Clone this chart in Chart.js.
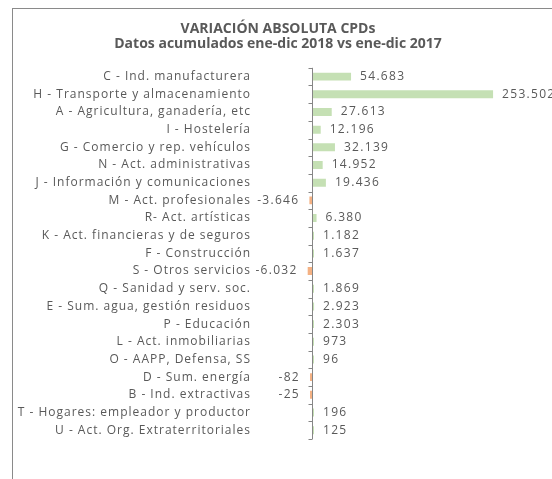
<!DOCTYPE html>
<html>
<head>
<meta charset="utf-8">
<script src="https://cdn.jsdelivr.net/npm/chart.js@4"></script>
<style>
  html, body { margin:0; padding:0; background:#fff; overflow:hidden; }
  #wrap { position:relative; width:552px; height:479px; }
  #frame { position:absolute; left:12px; top:8px; width:600px; height:520px; border:1px solid #8a8a8a; }
  #c { position:absolute; left:0; top:0; }
</style>
</head>
<body>
<div id="wrap">
  <div id="frame"></div>
  <canvas id="c" width="552" height="479"></canvas>
</div>
<script>
const titleLines = ['VARIACIÓN ABSOLUTA CPDs', 'Datos acumulados ene-dic 2018 vs ene-dic 2017'];

const sectors = [
  'C - Ind. manufacturera',
  'H - Transporte y almacenamiento',
  'A - Agricultura, ganadería, etc',
  'I - Hostelería',
  'G - Comercio y rep. vehículos',
  'N - Act. administrativas',
  'J - Información y comunicaciones',
  'M - Act. profesionales',
  'R- Act. artísticas',
  'K - Act. financieras y de seguros',
  'F - Construcción',
  'S - Otros servicios',
  'Q - Sanidad y serv. soc.',
  'E - Sum. agua, gestión residuos',
  'P - Educación',
  'L - Act. inmobiliarias',
  'O - AAPP, Defensa, SS',
  'D - Sum. energía',
  'B - Ind. extractivas',
  'T - Hogares: empleador y productor',
  'U - Act. Org. Extraterritoriales'
];

const variation = [54683, 253502, 27613, 12196, 32139, 14952, 19436, -3646, 6380, 1182,
  1637, -6032, 1869, 2923, 2303, 973, 96, -82, -25, 196, 125];

const POS = '#c5e0b4', NEG = '#f4b183', TXT = '#595959';
const SPACING = '1px';

// formato español: 54.683, 1.182
const fmt = v => (v < 0 ? '-' : '') + String(Math.abs(v)).replace(/\B(?=(\d{3})+(?!\d))/g, '.');

// texto espaciado como en la imagen (Excel), salvo en el titulo
const spacingPlugin = {
  id: 'spacing',
  beforeLayout(chart) { chart.ctx.letterSpacing = SPACING; },
  beforeDraw(chart) {
    chart.ctx.letterSpacing = SPACING;
    const t = chart.titleBlock;
    if (t && !t._patched) {
      const orig = t.draw;
      t.draw = function () {
        const ctx = chart.ctx;
        ctx.letterSpacing = '0px';
        orig.apply(this, arguments);
        ctx.letterSpacing = SPACING;
      };
      t._patched = true;
    }
  }
};

// eje vertical en x=0 con marcas entre categorias, y etiquetas de valor
const axisLabels = {
  id: 'axisLabels',
  afterDatasetsDraw(chart) {
    const ctx = chart.ctx, xs = chart.scales.x, ys = chart.scales.y;
    const x0 = Math.round(xs.getPixelForValue(0)) + 0.5;
    const step = (ys.bottom - ys.top) / sectors.length;
    ctx.save();
    ctx.strokeStyle = '#868686';
    ctx.lineWidth = 1;
    ctx.beginPath();
    ctx.moveTo(x0, ys.top);
    ctx.lineTo(x0, ys.bottom);
    for (let i = 0; i <= sectors.length; i++) {
      const y = Math.round(ys.top + i * step) + 0.5;
      ctx.moveTo(x0 - 4, y);
      ctx.lineTo(x0, y);
    }
    ctx.stroke();

    ctx.font = '12px "Open Sans"';
    ctx.letterSpacing = '1.3px';
    ctx.fillStyle = TXT;
    ctx.textBaseline = 'middle';
    chart.getDatasetMeta(0).data.forEach((bar, i) => {
      const v = variation[i];
      if (v >= 0) {
        ctx.textAlign = 'left';
        ctx.fillText(fmt(v), Math.max(bar.x, x0) + 9, bar.y);
      } else {
        ctx.textAlign = 'right';
        ctx.fillText(fmt(v), Math.min(bar.x, x0 - 2) - 10, bar.y);
      }
    });
    ctx.restore();
  }
};

new Chart(document.getElementById('c'), {
  type: 'bar',
  data: {
    labels: sectors,
    datasets: [{
      data: variation,
      backgroundColor: variation.map(v => v >= 0 ? POS : NEG),
      categoryPercentage: 1,
      barPercentage: 0.45,
      minBarLength: 2
    }]
  },
  options: {
    indexAxis: 'y',
    responsive: false,
    animation: false,
    layout: { padding: { left: 4, right: 0, top: 0, bottom: 40 } },
    plugins: {
      legend: { display: false },
      tooltip: { enabled: false },
      title: {
        display: true,
        text: titleLines,
        color: TXT,
        font: { family: '"Open Sans"', size: 14, weight: 'bold', lineHeight: 1.1 },
        padding: { top: 21, bottom: 16 }
      }
    },
    scales: {
      x: { display: false, min: -8400, max: 336000 },
      y: {
        grid: { display: false, drawTicks: false },
        border: { display: false },
        ticks: {
          color: TXT,
          font: { family: '"Open Sans"', size: 12 },
          padding: 55,
          autoSkip: false
        },
        afterFit(s) {
          s.width = 302;
          s.paddingTop = 0;
          s.paddingBottom = 0;
        }
      }
    }
  },
  plugins: [spacingPlugin, axisLabels]
});
</script>
</body>
</html>
